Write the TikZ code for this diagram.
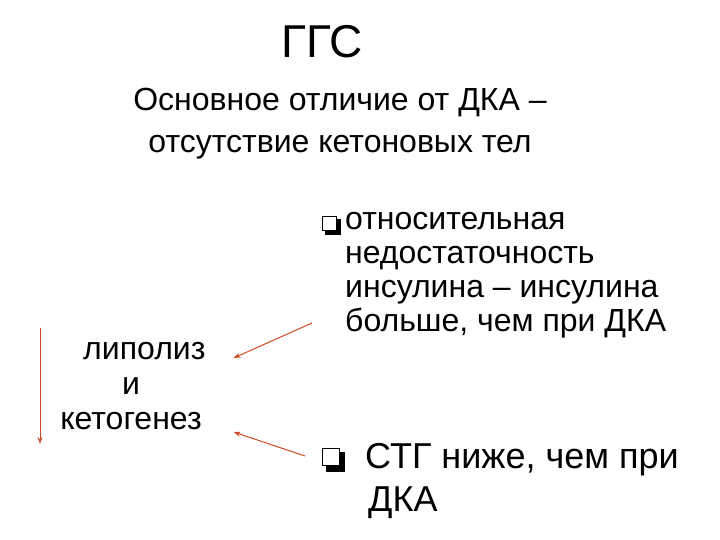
\documentclass[tikz,border=0pt]{standalone}
\usepackage{fontspec}
\setmainfont{Liberation Sans}
\usetikzlibrary{arrows.meta}
\begin{document}
\begin{tikzpicture}[x=1pt,y=-1pt,
  txt/.style={inner sep=0pt,font=\fontsize{32}{34}\selectfont},
  arr/.style={draw={rgb,255:red,205;green,75;blue,35},line width=1pt,-{Stealth[length=7pt,width=5pt]}},
  bul/.style={draw=black,line width=1.3pt,minimum size=#1,inner sep=0pt,fill=white}]
\useasboundingbox (0,0) rectangle (720,540);
\node[inner sep=0pt,font=\fontsize{46}{50}\selectfont] (t) at (322,42) {ГГС};
\node[txt,align=center,font=\fontsize{32}{42}\selectfont] (s) at (340,124) {Основное отличие от ДКА --\\отсутствие кетоновых тел};
\node[txt,align=left,anchor=north west] (r1) at (345,212) {относительная\\недостаточность\\инсулина -- инсулина\\больше, чем при ДКА};
\fill (325,219) rectangle (341,235);
\node[bul=14pt,anchor=north west] (b1) at (322,216) {};
\node[inner sep=0pt,anchor=north west,align=left,font=\fontsize{36}{43}\selectfont] (r2) at (365,443) {СТГ ниже, чем при\\\hspace*{3pt}ДКА};
\fill (326,452) rectangle (345,472);
\node[bul=17pt,anchor=north west] (b2) at (322,448) {};
\node[txt,align=center,font=\fontsize{32}{35}\selectfont] (l) at (131,386) {\ \ \ липолиз\\и\\кетогенез};
\coordinate (v1) at (40,328);
\coordinate (v2) at (40,444);
\draw[arr] (v1) -- (v2);
\coordinate (a1) at (312,323);
\coordinate (a2) at (305,456);
\draw[arr] (a1) -- ([xshift=28pt]l.east |- 0,358);
\draw[arr] (a2) -- ([xshift=28pt]l.east |- 0,432);
\end{tikzpicture}
\end{document}
